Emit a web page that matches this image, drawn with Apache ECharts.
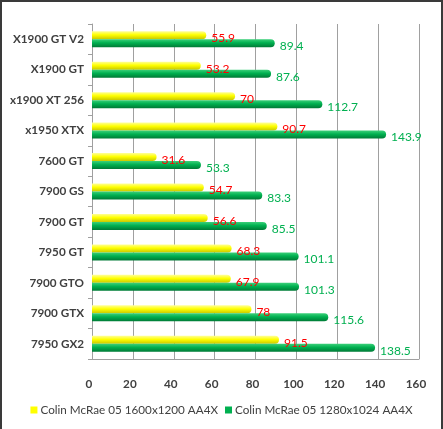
<!DOCTYPE html>
<html><head><meta charset="utf-8">
<script src="https://cdn.jsdelivr.net/npm/echarts@6/dist/echarts.min.js"></script>
<style>
html,body{margin:0;padding:0;background:#fff;}
#c{width:443px;height:429px;box-sizing:border-box;border-left:2px solid #3a3a3a;border-top:2px solid #3a3a3a;border-right:2px solid #3a3a3a;}
</style></head><body>
<div id="c"></div>
<script>
const categories = ['X1900 GT V2','X1900 GT','x1900 XT 256','x1950 XTX','7600 GT','7900 GS','7900 GT','7950 GT','7900 GTO','7900 GTX','7950 GX2'];
const series1600 = [55.9,53.2,70,90.7,31.6,54.7,56.6,68.3,67.9,78,91.5];
const series1280 = [89.4,87.6,112.7,143.9,53.3,83.3,85.5,101.1,101.3,115.6,138.5];
const seriesNames = ['Colin McRae 05 1600x1200 AA4X','Colin McRae 05 1280x1024 AA4X'];

const font = 'Lato, "Open Sans", sans-serif';
const chart = echarts.init(document.getElementById('c'), null, {renderer:'canvas'});
const grad = (a,b,c)=>new echarts.graphic.LinearGradient(0,0,0,1,[{offset:0,color:a},{offset:0.45,color:b},{offset:1,color:c}]);
chart.setOption({
  animation:false,
  textStyle:{fontFamily:font},
  grid:{left:90,right:22,top:22,bottom:70,containLabel:false},
  legend:{bottom:8,left:'center',itemWidth:7,itemHeight:7,itemGap:7,icon:'rect',
    textStyle:{fontFamily:font,fontSize:11.7,color:'#404040',padding:[0,0,0,-2]},
    data:[{name:seriesNames[0],itemStyle:{color:'#FFFF00'}},{name:seriesNames[1],itemStyle:{color:'#00B050'}}]},
  xAxis:{type:'value',min:0,max:160,interval:20,
    axisLine:{show:true,lineStyle:{color:'#A0A0A0'}},
    axisTick:{show:false},
    splitLine:{show:true,lineStyle:{color:'#A0A0A0',width:1}},
    axisLabel:{fontFamily:font,fontSize:11.7,fontWeight:'bold',color:'#404040',margin:19,padding:[0,6,0,0]}},
  yAxis:{type:'category',data:categories,inverse:true,
    axisLine:{show:true,lineStyle:{color:'#A0A0A0'}},
    axisTick:{show:true,length:4,lineStyle:{color:'#A0A0A0'}},
    axisLabel:{fontFamily:font,fontSize:11.7,fontWeight:'bold',color:'#404040',margin:8,padding:[7,0,0,0]}},
  series:[
    {name:seriesNames[0],type:'bar',data:series1600,barWidth:8,barGap:'0%',
     itemStyle:{color:grad('#FFFF99','#FFFF00','#C8C800'),borderRadius:[0,4,4,0]},
     label:{show:true,position:'right',distance:5,offset:[0,3],color:'#FF0000',fontFamily:font,fontSize:12}},
    {name:seriesNames[1],type:'bar',data:series1280,barWidth:8,
     itemStyle:{color:grad('#3CD07A','#00B050','#007A36'),borderRadius:[0,4,4,0]},
     label:{show:true,position:'right',distance:5,offset:[0,3],color:'#00B050',fontFamily:font,fontSize:12}}
  ]
});
</script></body></html>
